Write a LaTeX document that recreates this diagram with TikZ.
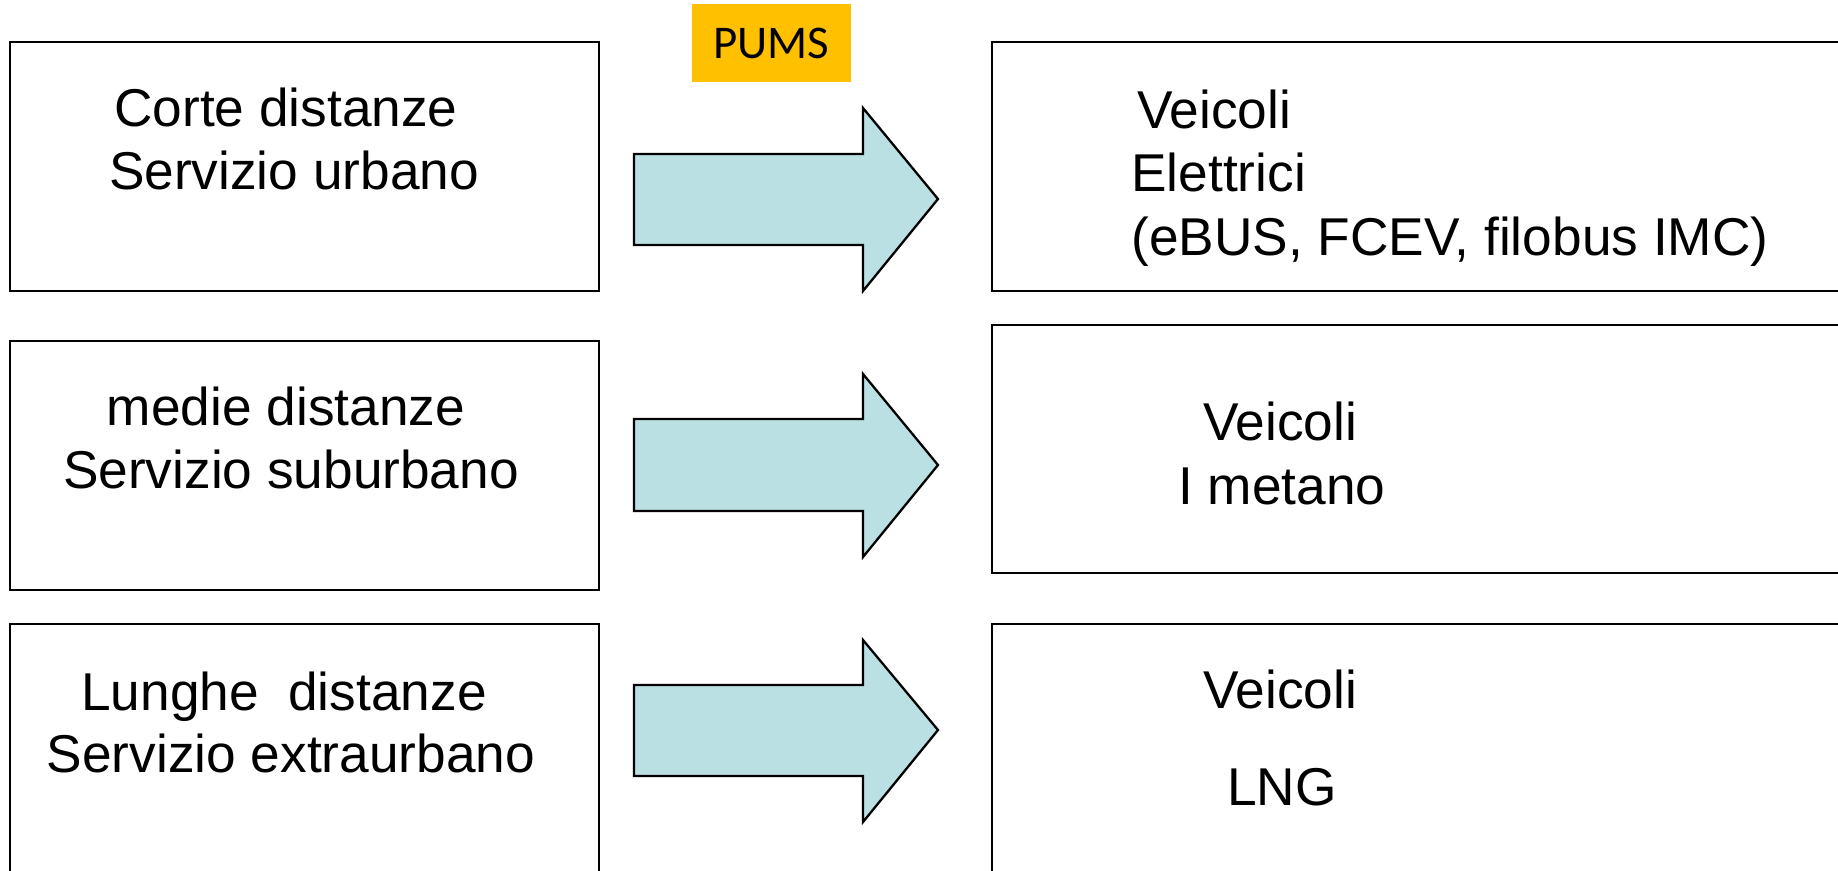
\documentclass[tikz,border=0pt]{standalone}
\usepackage{fontspec}
\setmainfont{Liberation Sans}
\newfontfamily\pumsfont{Carlito}
\definecolor{arrowfill}{RGB}{187,224,227}
\definecolor{pumsorange}{RGB}{255,192,0}

\begin{document}
\begin{tikzpicture}[x=0.02cm,y=-0.02cm,
    box/.style={draw,line width=1.1pt},
    bigarrow/.style={draw,line width=1.3pt,fill=arrowfill,line join=miter},
    txt/.style={inner sep=0pt,anchor=base,font=\fontsize{30.3}{36}\selectfont}]
\useasboundingbox (0,0) rectangle (1838,870);
\clip (0,0) rectangle (1838,870);

% left boxes
\draw[box] (10,42) rectangle (599,291);
\draw[box] (10,341) rectangle (599,590);
\draw[box] (10,624) rectangle (599,885);

% right boxes (cut by the edge)
\draw[box] (992,42) rectangle (1850,291);
\draw[box] (992,325) rectangle (1850,573);
\draw[box] (992,624) rectangle (1850,885);

% block arrows
\draw[bigarrow] (634,154)--(863,154)--(863,108)--(938,199)--(863,291)--(863,245)--(634,245)--cycle;
\draw[bigarrow] (634,419)--(863,419)--(863,374)--(938,465)--(863,557)--(863,511)--(634,511)--cycle;
\draw[bigarrow] (634,685)--(863,685)--(863,640)--(938,730)--(863,822)--(863,776)--(634,776)--cycle;

\node[fill=pumsorange,minimum width=3.18cm,minimum height=1.57cm,inner sep=0pt,
      font=\pumsfont\fontsize{26.7}{32}\selectfont] (pums) at (771.5,43) {PUMS};

% left texts
\node[txt] (corte) at (286,126) {Corte distanze};
\node[txt] (urbano) at (294,189) {Servizio urbano};
\node[txt] (medie) at (286,425) {medie distanze};
\node[txt] (suburbano) at (291,488) {Servizio suburbano};
\node[txt] (lunghe) at (284,710) {Lunghe\ \ distanze};
\node[txt] (extraurbano) at (291,772) {Servizio extraurbano};

% right texts
\node[txt,anchor=base west] (veicoliA) at (1137,128) {Veicoli};
\node[txt,anchor=base west] (elettrici) at (1131,191) {Elettrici};
\node[txt,anchor=base west] (ebus) at (1131,255) {(eBUS, FCEV, filobus IMC)};
\node[txt] (veicoliB) at (1280,440) {Veicoli};
\node[txt] (metano) at (1282,504) {I metano};
\node[txt] (veicoliC) at (1280,708) {Veicoli};
\node[txt] (lng) at (1282,805) {LNG};
\end{tikzpicture}
\end{document}
